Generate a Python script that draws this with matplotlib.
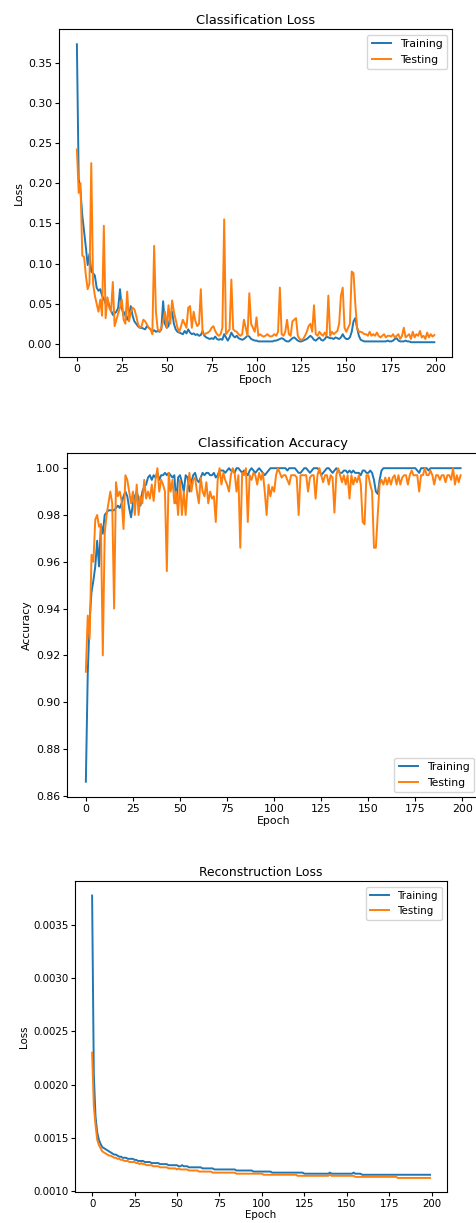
import numpy as np
import matplotlib
matplotlib.use('Agg')
import matplotlib.pyplot as plt

# epochs 0..199
epochs = list(range(200))

# classification loss
cls_loss_train = [
    0.373, 0.205, 0.19, 0.16, 0.14, 0.12, 0.098, 0.112, 0.09, 0.088,
    0.085, 0.07, 0.066, 0.068, 0.06, 0.056, 0.05, 0.055, 0.048, 0.042,
    0.036, 0.038, 0.04, 0.045, 0.068, 0.045, 0.035, 0.04, 0.03, 0.035,
    0.047, 0.035, 0.028, 0.025, 0.022, 0.02, 0.02, 0.019, 0.018, 0.022,
    0.02, 0.018, 0.015, 0.017, 0.015, 0.016, 0.015, 0.018, 0.053, 0.025,
    0.02, 0.022, 0.035, 0.04, 0.025, 0.018, 0.015, 0.014, 0.013, 0.012,
    0.016, 0.013, 0.018, 0.014, 0.012, 0.013, 0.011, 0.012, 0.01, 0.011,
    0.016, 0.01, 0.008, 0.007, 0.006, 0.007, 0.006, 0.009, 0.006, 0.005,
    0.006, 0.005, 0.012, 0.008, 0.004, 0.008, 0.014, 0.01, 0.008, 0.01,
    0.007, 0.006, 0.005, 0.006, 0.008, 0.01, 0.009, 0.006, 0.005, 0.004,
    0.004, 0.003, 0.003, 0.003, 0.003, 0.003, 0.003, 0.003, 0.003, 0.003,
    0.004, 0.004, 0.005, 0.006, 0.007, 0.006, 0.004, 0.003, 0.003, 0.005,
    0.007, 0.008, 0.006, 0.004, 0.003, 0.003, 0.004, 0.005, 0.006, 0.008,
    0.01, 0.008, 0.005, 0.004, 0.006, 0.008, 0.005, 0.004, 0.006, 0.009,
    0.008, 0.007, 0.007, 0.006, 0.008, 0.007, 0.006, 0.008, 0.012, 0.008,
    0.006, 0.006, 0.008, 0.015, 0.028, 0.032, 0.02, 0.01, 0.005, 0.004,
    0.003, 0.003, 0.003, 0.003, 0.003, 0.003, 0.003, 0.003, 0.003, 0.003,
    0.003, 0.003, 0.003, 0.004, 0.003, 0.003, 0.004, 0.006, 0.007, 0.004,
    0.003, 0.003, 0.003, 0.004, 0.003, 0.003, 0.002, 0.002, 0.002, 0.002,
    0.002, 0.002, 0.002, 0.002, 0.002, 0.002, 0.002, 0.002, 0.002, 0.002,
]
cls_loss_test = [
    0.242, 0.188, 0.2, 0.11, 0.108, 0.085, 0.068, 0.075, 0.225, 0.075,
    0.06, 0.05, 0.04, 0.055, 0.035, 0.147, 0.032, 0.058, 0.045, 0.04,
    0.077, 0.022, 0.03, 0.038, 0.045, 0.055, 0.03, 0.025, 0.065, 0.028,
    0.04, 0.045, 0.043, 0.035, 0.025, 0.02, 0.022, 0.03, 0.028, 0.024,
    0.02, 0.018, 0.012, 0.122, 0.04, 0.018, 0.015, 0.02, 0.028, 0.04,
    0.02, 0.048, 0.025, 0.054, 0.04, 0.03, 0.02, 0.015, 0.022, 0.03,
    0.025, 0.02, 0.045, 0.047, 0.02, 0.04, 0.028, 0.022, 0.025, 0.068,
    0.013, 0.012, 0.013, 0.014, 0.016, 0.02, 0.022, 0.016, 0.012, 0.01,
    0.012, 0.02, 0.155, 0.012, 0.015, 0.018, 0.08, 0.018, 0.016, 0.015,
    0.012, 0.01, 0.012, 0.03, 0.02, 0.01, 0.063, 0.025, 0.02, 0.015,
    0.033, 0.01, 0.012, 0.01, 0.009, 0.01, 0.012, 0.01, 0.009, 0.01,
    0.012, 0.01, 0.015, 0.07, 0.012, 0.01, 0.015, 0.03, 0.012, 0.01,
    0.028, 0.03, 0.032, 0.01, 0.006, 0.005, 0.006, 0.01, 0.015, 0.022,
    0.025, 0.015, 0.048, 0.012, 0.01, 0.015, 0.012, 0.01, 0.014, 0.01,
    0.06, 0.01, 0.015, 0.012, 0.014, 0.016, 0.025, 0.06, 0.07, 0.02,
    0.015, 0.02, 0.025, 0.09, 0.088, 0.05, 0.02, 0.015, 0.015, 0.014,
    0.012, 0.012, 0.01, 0.015, 0.01, 0.012, 0.01, 0.014, 0.01, 0.008,
    0.01, 0.012, 0.008, 0.01, 0.01, 0.009, 0.012, 0.008, 0.01, 0.012,
    0.006, 0.01, 0.02, 0.008, 0.01, 0.012, 0.006, 0.015, 0.008, 0.012,
    0.01, 0.016, 0.008, 0.01, 0.006, 0.014, 0.008, 0.012, 0.009, 0.011,
]

# classification accuracy
cls_acc_train = [
    0.866, 0.912, 0.935, 0.947, 0.952, 0.958, 0.969, 0.958, 0.976, 0.972,
    0.98, 0.981, 0.982, 0.982, 0.982, 0.982, 0.983, 0.984, 0.983, 0.985,
    0.988, 0.99, 0.988, 0.983, 0.979, 0.985, 0.988, 0.99, 0.987, 0.984,
    0.99, 0.992, 0.993, 0.996, 0.997, 0.995, 0.997, 0.996, 0.998, 0.995,
    0.997, 0.997, 0.998, 0.997, 0.998, 0.997, 0.996, 0.997, 0.985, 0.996,
    0.997, 0.994, 0.99, 0.997, 0.996, 0.99, 0.994, 0.997, 0.998, 0.995,
    0.994, 0.996, 0.998, 0.997, 0.998, 0.998, 0.997, 0.997, 0.998, 0.996,
    0.997, 0.999, 0.999, 0.999, 0.998, 0.999, 1.0, 0.999, 0.999, 0.998,
    1.0, 1.0, 0.999, 0.998, 0.999, 0.998, 0.997, 0.999, 1.0, 0.999,
    0.998, 0.999, 1.0, 0.999, 0.998, 0.997, 0.998, 0.999, 1.0, 1.0,
    1.0, 1.0, 1.0, 1.0, 1.0, 1.0, 1.0, 0.999, 1.0, 1.0,
    1.0, 1.0, 0.999, 0.998, 0.998, 0.999, 1.0, 1.0, 0.999, 0.998,
    0.999, 1.0, 1.0, 1.0, 0.999, 0.997, 0.998, 0.999, 1.0, 1.0,
    0.999, 0.998, 0.999, 1.0, 0.999, 0.998, 0.998, 0.999, 0.999, 0.998,
    0.999, 0.998, 0.999, 0.998, 0.998, 0.998, 0.997, 0.999, 0.999, 0.998,
    0.998, 0.999, 0.998, 0.995, 0.99, 0.989, 0.995, 0.999, 1.0, 1.0,
    1.0, 1.0, 1.0, 1.0, 1.0, 1.0, 1.0, 1.0, 1.0, 1.0,
    1.0, 1.0, 1.0, 1.0, 1.0, 1.0, 0.999, 0.998, 1.0, 1.0,
    1.0, 1.0, 0.999, 1.0, 1.0, 1.0, 1.0, 1.0, 1.0, 1.0,
    1.0, 1.0, 1.0, 1.0, 1.0, 1.0, 1.0, 1.0, 1.0, 1.0,
]
cls_acc_test = [
    0.913, 0.937, 0.927, 0.963, 0.96, 0.978, 0.98, 0.975, 0.976, 0.92,
    0.972, 0.98, 0.985, 0.99, 0.985, 0.94, 0.994, 0.988, 0.99, 0.986,
    0.974, 0.997, 0.995, 0.99, 0.985, 0.99, 0.98, 0.993, 0.98, 0.988,
    0.985, 0.995, 0.987, 0.99, 0.987, 0.993, 0.986, 0.995, 1.0, 0.99,
    0.995, 0.993, 0.99, 0.956, 0.998, 0.99, 0.995, 0.985, 0.99, 0.98,
    0.995, 0.98, 0.99, 0.98, 0.992, 0.998, 0.99, 0.995, 0.996, 0.99,
    0.985, 0.996, 0.99, 0.988, 0.994, 0.985, 0.99, 0.987, 0.988, 0.977,
    0.995, 1.0, 0.993, 0.998, 0.995, 0.993, 0.99, 0.997, 1.0, 0.998,
    0.99, 0.997, 0.966, 0.998, 0.997, 1.0, 0.977, 0.997, 0.995, 0.998,
    0.997, 0.993, 0.998, 0.995, 0.998, 0.99, 0.98, 0.993, 0.988, 0.992,
    0.99, 0.997, 1.0, 0.998, 0.996, 0.997, 0.997, 0.995, 0.993, 0.997,
    0.997, 0.997, 0.996, 0.98, 0.997, 0.997, 0.997, 0.997, 0.99, 0.996,
    0.997, 0.997, 0.987, 0.997, 1.0, 0.997, 0.994, 0.997, 0.997, 0.993,
    0.997, 0.996, 0.981, 0.997, 1.0, 0.997, 0.994, 0.997, 0.993, 0.997,
    0.987, 0.997, 0.993, 0.996, 0.994, 0.997, 0.993, 0.977, 0.976, 0.997,
    0.997, 0.993, 0.99, 0.966, 0.966, 0.98, 0.993, 0.995, 0.993, 0.996,
    0.993, 0.996, 0.993, 0.996, 0.997, 0.993, 0.997, 0.993, 0.996, 0.997,
    0.997, 0.993, 0.997, 0.999, 0.997, 0.997, 0.997, 0.99, 0.997, 0.997,
    1.0, 0.997, 0.997, 0.999, 0.997, 0.993, 0.997, 0.997, 0.995, 0.997,
    0.997, 0.994, 0.997, 0.997, 0.995, 1.0, 0.993, 0.997, 0.994, 0.997,
]

# reconstruction loss
rec_loss_train = [
    0.00378, 0.0021, 0.0017, 0.00155, 0.00148, 0.00144, 0.00141, 0.0014, 0.00139, 0.00138,
    0.00137, 0.00136, 0.00135, 0.00134, 0.00134, 0.00133, 0.00132, 0.00132, 0.00131, 0.00131,
    0.00131, 0.0013, 0.0013, 0.0013, 0.0013, 0.00129, 0.00129, 0.00128, 0.00128, 0.00128,
    0.00128, 0.00127, 0.00127, 0.00127, 0.00127, 0.00126, 0.00126, 0.00126, 0.00126, 0.00126,
    0.00125, 0.00125, 0.00125, 0.00125, 0.00125, 0.00124, 0.00124, 0.00124, 0.00124, 0.00124,
    0.00124, 0.00123, 0.00123, 0.00124, 0.00123, 0.00123, 0.00123, 0.00122, 0.00122, 0.00122,
    0.00122, 0.00122, 0.00122, 0.00122, 0.00122, 0.00121, 0.00121, 0.00121, 0.00121, 0.00121,
    0.00121, 0.00121, 0.0012, 0.0012, 0.0012, 0.0012, 0.0012, 0.0012, 0.0012, 0.0012,
    0.0012, 0.0012, 0.0012, 0.0012, 0.0012, 0.00119, 0.00119, 0.00119, 0.00119, 0.00119,
    0.00119, 0.00119, 0.00119, 0.00119, 0.00119, 0.00118, 0.00118, 0.00118, 0.00118, 0.00118,
    0.00118, 0.00118, 0.00118, 0.00118, 0.00118, 0.00118, 0.00117, 0.00117, 0.00117, 0.00117,
    0.00117, 0.00117, 0.00117, 0.00117, 0.00117, 0.00117, 0.00117, 0.00117, 0.00117, 0.00117,
    0.00117, 0.00117, 0.00117, 0.00117, 0.00117, 0.00116, 0.00116, 0.00116, 0.00116, 0.00116,
    0.00116, 0.00116, 0.00116, 0.00116, 0.00116, 0.00116, 0.00116, 0.00116, 0.00116, 0.00116,
    0.00117, 0.00116, 0.00116, 0.00116, 0.00116, 0.00116, 0.00116, 0.00116, 0.00116, 0.00116,
    0.00116, 0.00116, 0.00116, 0.00116, 0.00117, 0.00116, 0.00116, 0.00116, 0.00116, 0.00115,
    0.00115, 0.00115, 0.00115, 0.00115, 0.00115, 0.00115, 0.00115, 0.00115, 0.00115, 0.00115,
    0.00115, 0.00115, 0.00115, 0.00115, 0.00115, 0.00115, 0.00115, 0.00115, 0.00115, 0.00115,
    0.00115, 0.00115, 0.00115, 0.00115, 0.00115, 0.00115, 0.00115, 0.00115, 0.00115, 0.00115,
    0.00115, 0.00115, 0.00115, 0.00115, 0.00115, 0.00115, 0.00115, 0.00115, 0.00115, 0.00115,
]
rec_loss_test = [
    0.0023, 0.0018, 0.00162, 0.00148, 0.00143, 0.0014, 0.00137, 0.00136, 0.00135, 0.00134,
    0.00133, 0.00133, 0.00132, 0.00131, 0.00131, 0.0013, 0.0013, 0.00129, 0.00129, 0.00128,
    0.00128, 0.00128, 0.00127, 0.00127, 0.00127, 0.00127, 0.00126, 0.00126, 0.00125, 0.00126,
    0.00125, 0.00125, 0.00124, 0.00124, 0.00124, 0.00124, 0.00123, 0.00123, 0.00123, 0.00123,
    0.00122, 0.00122, 0.00122, 0.00122, 0.00122, 0.00121, 0.00121, 0.00121, 0.00121, 0.00121,
    0.0012, 0.00121, 0.0012, 0.0012, 0.0012, 0.0012, 0.0012, 0.00119, 0.00119, 0.00119,
    0.00119, 0.00119, 0.00119, 0.00118, 0.00118, 0.00118, 0.00118, 0.00118, 0.00118, 0.00118,
    0.00118, 0.00117, 0.00117, 0.00117, 0.00117, 0.00117, 0.00117, 0.00117, 0.00117, 0.00117,
    0.00117, 0.00117, 0.00117, 0.00117, 0.00117, 0.00116, 0.00116, 0.00116, 0.00116, 0.00116,
    0.00116, 0.00116, 0.00116, 0.00116, 0.00116, 0.00116, 0.00116, 0.00116, 0.00116, 0.00116,
    0.00116, 0.00115, 0.00115, 0.00115, 0.00115, 0.00115, 0.00115, 0.00115, 0.00115, 0.00115,
    0.00115, 0.00115, 0.00115, 0.00115, 0.00115, 0.00115, 0.00115, 0.00115, 0.00115, 0.00115,
    0.00115, 0.00114, 0.00114, 0.00114, 0.00114, 0.00114, 0.00114, 0.00114, 0.00114, 0.00114,
    0.00114, 0.00114, 0.00114, 0.00114, 0.00114, 0.00114, 0.00114, 0.00114, 0.00114, 0.00114,
    0.00115, 0.00114, 0.00114, 0.00114, 0.00114, 0.00114, 0.00114, 0.00114, 0.00114, 0.00114,
    0.00114, 0.00114, 0.00114, 0.00114, 0.00114, 0.00113, 0.00113, 0.00113, 0.00113, 0.00113,
    0.00113, 0.00113, 0.00113, 0.00113, 0.00113, 0.00113, 0.00113, 0.00113, 0.00113, 0.00113,
    0.00113, 0.00113, 0.00113, 0.00113, 0.00113, 0.00113, 0.00113, 0.00113, 0.00113, 0.00113,
    0.00112, 0.00112, 0.00112, 0.00112, 0.00112, 0.00112, 0.00112, 0.00112, 0.00112, 0.00112,
    0.00112, 0.00112, 0.00112, 0.00112, 0.00112, 0.00112, 0.00112, 0.00112, 0.00112, 0.00112,
]

fig = plt.figure(figsize=(4.76, 12.23), dpi=100)


def panel(rect, train, test, title, ylabel, loc, fs):
    ax = fig.add_axes(rect)
    ax.plot(epochs, train, label='Training', color='#1f77b4', lw=1.4)
    ax.plot(epochs, test, label='Testing', color='#ff7f0e', lw=1.4)
    ax.set_title(title, fontsize=fs * 1.2, pad=4)
    ax.set_xlabel('Epoch', fontsize=fs, labelpad=1)
    ax.set_ylabel(ylabel, fontsize=fs, labelpad=3)
    ax.tick_params(labelsize=fs, length=3, pad=2)
    ax.set_xticks([0, 25, 50, 75, 100, 125, 150, 175, 200])
    ax.legend(loc=loc, fontsize=fs, handlelength=1.8)
    return ax


panel([0.124, 0.708, 0.826, 0.268], cls_loss_train, cls_loss_test,
      'Classification Loss', 'Loss', 'upper right', 7.8)
panel([0.141, 0.348, 0.866, 0.282], cls_acc_train, cls_acc_test,
      'Classification Accuracy', 'Accuracy', 'lower right', 7.8)
panel([0.158, 0.0253, 0.781, 0.254], rec_loss_train, rec_loss_test,
      'Reconstruction Loss', 'Loss', 'upper right', 7.4)

fig.savefig('out.png', dpi=100)
